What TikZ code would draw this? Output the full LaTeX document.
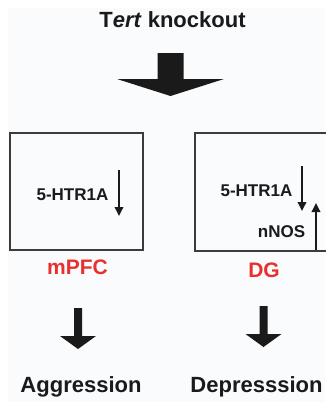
\documentclass[tikz,border=0pt]{standalone}
\usepackage{fontspec}
\setmainfont{Liberation Sans}
\usetikzlibrary{arrows.meta}
\definecolor{bg}{HTML}{FAFBFD}
\definecolor{ink}{HTML}{1A1A1A}
\definecolor{redlbl}{HTML}{E8302E}
\tikzset{
  lbl/.style={font=\bfseries\fontsize{17}{17}\selectfont, text=ink, inner sep=0pt, anchor=base},
  head/.style={font=\bfseries\fontsize{22}{22}\selectfont, text=ink, inner sep=0pt, anchor=base},
  region/.style={font=\bfseries\fontsize{21}{21}\selectfont, text=redlbl, inner sep=0pt, anchor=base},
  thin arrow/.style={draw=ink, line width=1.8pt, -{Triangle[width=8.5pt,length=9pt]}},
  block/.style={fill=ink, draw=none},
  boxline/.style={draw=ink!85, line width=1.1pt},
}
\begin{document}
\begin{tikzpicture}[x=1pt,y=-1pt]
\useasboundingbox (0,0) rectangle (325,402);
\fill[bg] (8,8) rectangle (325,402);
% title
\node[head] (title) at (172.5,27) {T\textit{ert} knockout};
% big block arrow
\fill[block] (157.5,53) -- (183.5,53) -- (183.5,79) -- (224,79) -- (170.5,96) -- (117,79) -- (157.5,79) -- cycle;
% boxes
\node[boxline, draw, minimum width=133pt, minimum height=117pt, inner sep=0pt] (lbox) at (76.5,191.5) {};
\draw[boxline] (326,133) -- (195,133) -- (195,251) -- (326,251);
\coordinate (rbox) at (260,192);
% left box content
\node[lbl] (lhtr) at (72.5,200) {5-HTR1A};
\coordinate (la1) at (119,170);
\coordinate (la2) at (119,216);
\draw[thin arrow] (la1) -- (la2);
% right box content
\node[lbl] (rhtr) at (256.5,196) {5-HTR1A};
\coordinate (ra1) at (302,166);
\coordinate (ra2) at (302,211);
\draw[thin arrow] (ra1) -- (ra2);
\node[lbl] (nnos) at (281.5,237) {nNOS};
\coordinate (ru1) at (316,250);
\coordinate (ru2) at (316,203);
\draw[thin arrow] (ru1) -- (ru2);
% region labels
\node[region] (mpfc) at (77.5,274) {mPFC};
\node[region] (dg) at (264,277) {DG};
% lower block arrows
\fill[block] (74,308) -- (82,308) -- (82,336) -- (96,336) -- (78,349) -- (60,336) -- (74,336) -- cycle;
\fill[block] (259.5,306) -- (267.5,306) -- (267.5,334) -- (281.5,334) -- (263.5,347) -- (245.5,334) -- (259.5,334) -- cycle;
% outcomes
\node[head] (aggr) at (81,392) {Aggression};
\node[head] (depr) at (256.5,392) {Depresssion};
\end{tikzpicture}
\end{document}
